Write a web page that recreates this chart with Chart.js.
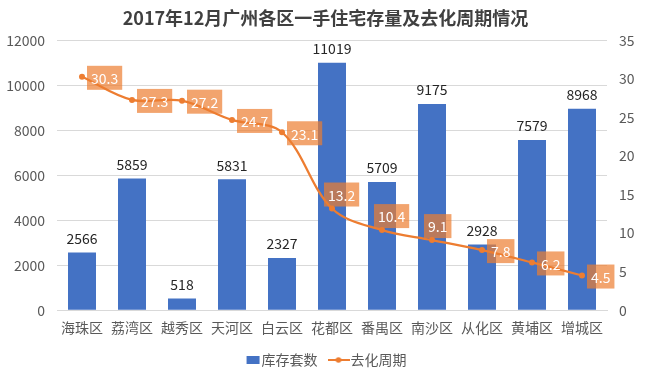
<!DOCTYPE html>
<html>
<head>
<meta charset="utf-8">
<script src="https://cdn.jsdelivr.net/npm/chart.js@4"></script>
<style>
  html, body { margin: 0; padding: 0; background: #fff; }
  #wrap { width: 651px; height: 385px; }
</style>
</head>
<body>
<div id="wrap"><canvas id="grafico" width="651" height="385"></canvas></div>
<script>
var districts = ['海珠区', '荔湾区', '越秀区', '天河区', '白云区', '花都区', '番禺区', '南沙区', '从化区', '黄埔区', '增城区'];
var stock = [2566, 5859, 518, 5831, 2327, 11019, 5709, 9175, 2928, 7579, 8968];
var cycle = [30.3, 27.3, 27.2, 24.7, 23.1, 13.2, 10.4, 9.1, 7.8, 6.2, 4.5];
var stockTicks = [0, 2000, 4000, 6000, 8000, 10000, 12000];
var cycleTicks = [0, 5, 10, 15, 20, 25, 30, 35];

// where each cycle label sits relative to its point (Excel moved a few of them up)
var labelSide = ['right', 'right', 'right', 'right', 'right', 'up', 'up', 'up', 'right', 'right', 'right'];

var FONT = '"Noto Sans CJK SC", "Noto Sans", sans-serif';
var BLUE = '#4472C4';
var ORANGE = '#ED7D31';

function legendIcon(w, h, draw) {
    var c = document.createElement('canvas');
    c.width = w; c.height = h;
    draw(c.getContext('2d'));
    return c;
}
var blueIcon = legendIcon(22, 8, function (g) { g.fillStyle = BLUE; g.fillRect(8, 0, 13, 8); });
var lineIcon = legendIcon(22, 8, function (g) {
    g.strokeStyle = ORANGE; g.lineWidth = 2;
    g.beginPath(); g.moveTo(0, 4); g.lineTo(22, 4); g.stroke();
    g.fillStyle = ORANGE; g.beginPath(); g.arc(11, 4, 2.8, 0, Math.PI * 2); g.fill();
});

var valueLabels = {
    id: 'valueLabels',
    afterDatasetsDraw: function (chart) {
        var ctx = chart.ctx;
        ctx.save();
        // bar values above the bars
        var bars = chart.getDatasetMeta(0).data;
        ctx.font = '14px ' + FONT;
        ctx.fillStyle = '#262626';
        ctx.textAlign = 'center';
        ctx.textBaseline = 'middle';
        bars.forEach(function (b, i) {
            ctx.fillText(stock[i], b.x, b.y - 14);
        });
        // cycle values in orange boxes
        var pts = chart.getDatasetMeta(1).data;
        pts.forEach(function (p, i) {
            var txt = cycle[i].toFixed(1);
            var w = ctx.measureText(txt).width + 8;
            var h = 24;
            var cx, cy;
            if (labelSide[i] === 'up') { cx = p.x + w / 2 - 8; cy = p.y - 14; }
            else { cx = p.x + 5 + w / 2; cy = p.y + 1; }
            ctx.fillStyle = 'rgba(237,125,49,0.7)';
            ctx.fillRect(cx - w / 2, cy - h / 2, w, h);
            ctx.fillStyle = '#ffffff';
            ctx.fillText(txt, cx, cy + 1);
        });
        ctx.restore();
    }
};

var chart = new Chart(document.getElementById('grafico').getContext('2d'), {
    type: 'bar',
    data: {
        labels: districts,
        datasets: [{
            label: '库存套数',
            data: stock,
            backgroundColor: BLUE,
            barPercentage: 0.56,
            categoryPercentage: 1,
            yAxisID: 'y',
            order: 1
        }, {
            type: 'line',
            label: '去化周期',
            data: cycle,
            borderColor: ORANGE,
            backgroundColor: ORANGE,
            borderWidth: 2.25,
            pointRadius: 3,
            pointBackgroundColor: ORANGE,
            pointBorderWidth: 0,
            tension: 0.35,
            yAxisID: 'y1',
            order: 0
        }]
    },
    options: {
        responsive: false,
        animation: false,
        layout: { padding: { left: 0, right: 0, top: 4, bottom: 8 } },
        scales: {
            x: {
                grid: { display: false },
                border: { color: '#D9D9D9' },
                ticks: { color: '#595959', font: { size: 14, family: FONT }, padding: 1 }
            },
            y: {
                position: 'left',
                min: 0, max: 12000,
                afterBuildTicks: function (s) { s.ticks = stockTicks.map(function (v) { return { value: v }; }); },
                afterFit: function (s) { s.width = 57; },
                grid: { color: '#D9D9D9', drawTicks: false },
                border: { display: false },
                ticks: {
                    color: '#595959', font: { size: 14, family: FONT }, padding: 12,
                    callback: function (v) { return String(v); }
                }
            },
            y1: {
                position: 'right',
                min: 0, max: 35,
                afterBuildTicks: function (s) { s.ticks = cycleTicks.map(function (v) { return { value: v }; }); },
                afterFit: function (s) { s.width = 44; },
                grid: { display: false, drawTicks: false },
                border: { display: false },
                ticks: {
                    color: '#595959', font: { size: 14, family: FONT }, padding: 12,
                    callback: function (v) { return String(v); }
                }
            }
        },
        plugins: {
            title: {
                display: true,
                text: '2017年12月广州各区一手住宅存量及去化周期情况',
                color: '#404040',
                font: { size: 18, weight: 'bold', family: FONT },
                padding: { top: 3, bottom: 12 }
            },
            legend: {
                display: true,
                position: 'bottom',
                labels: {
                    color: '#595959',
                    font: { size: 14, family: FONT },
                    usePointStyle: true,
                    boxWidth: 10,
                    boxHeight: 10,
                    padding: 16,
                    sort: function (a, b) { return a.datasetIndex - b.datasetIndex; },
                    generateLabels: function (c) {
                        var items = Chart.defaults.plugins.legend.labels.generateLabels(c);
                        items.forEach(function (it) {
                            it.pointStyle = it.datasetIndex === 0 ? blueIcon : lineIcon;
                        });
                        return items;
                    }
                }
            },
            tooltip: { enabled: false }
        }
    },
    plugins: [valueLabels]
});
</script>
</body>
</html>
